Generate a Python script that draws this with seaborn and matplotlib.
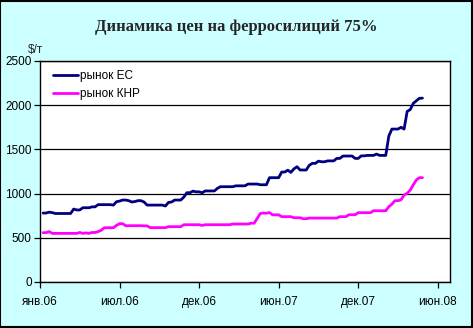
import matplotlib
matplotlib.use("Agg")
import matplotlib.pyplot as plt
from matplotlib.patches import Rectangle
import numpy as np
import pandas as pd
import seaborn as sns

# Weekly prices, $/t
eu_prices = [
    780, 780, 790, 785, 775, 775, 775, 775, 775, 775,
    825, 815, 815, 840, 840, 840, 850, 850, 875, 875,
    875, 875, 875, 870, 908, 915, 927, 927, 920, 905,
    910, 920, 920, 905, 870, 870, 870, 870, 870, 870,
    860, 900, 905, 927, 927, 927, 960, 1010, 1010, 1028,
    1020, 1020, 1010, 1030, 1030, 1030, 1030, 1060, 1078, 1078,
    1078, 1078, 1078, 1088, 1088, 1088, 1088, 1108, 1108, 1108,
    1108, 1100, 1100, 1100, 1180, 1180, 1180, 1180, 1244, 1244,
    1265, 1240, 1280, 1304, 1267, 1267, 1267, 1320, 1342, 1342,
    1367, 1360, 1360, 1370, 1370, 1370, 1398, 1398, 1425, 1425,
    1425, 1425, 1398, 1398, 1427, 1427, 1432, 1432, 1432, 1447,
    1432, 1432, 1432, 1650, 1730, 1730, 1730, 1750, 1730, 1930,
    1950, 2021, 2050, 2078, 2080,
]
cn_prices = [
    558, 558, 570, 550, 550, 550, 550, 550, 550, 550,
    550, 550, 560, 550, 555, 550, 560, 560, 570, 585,
    614, 614, 614, 614, 640, 660, 660, 637, 637, 637,
    637, 637, 637, 635, 635, 615, 615, 615, 615, 615,
    615, 626, 626, 626, 626, 626, 648, 648, 648, 648,
    648, 648, 640, 648, 648, 648, 648, 648, 648, 648,
    648, 648, 656, 656, 656, 656, 656, 656, 665, 665,
    720, 775, 780, 778, 785, 760, 760, 760, 739, 739,
    739, 739, 727, 727, 727, 716, 716, 723, 723, 723,
    723, 723, 723, 723, 723, 723, 723, 739, 739, 739,
    761, 761, 761, 784, 784, 784, 784, 784, 806, 806,
    806, 806, 806, 852, 880, 920, 920, 930, 984, 1003,
    1040, 1100, 1154, 1180, 1180,
]
series_names = ["рынок ЕС", "рынок КНР"]
series_colors = ["#000080", "#FF00FF"]
tick_labels = ["янв.06", "июл.06", "дек.06", "июн.07", "дек.07", "июн.08"]
title_text = "Динамика цен на ферросилиций 75%"
unit_text = "$/т"

origin = pd.Timestamp("2006-01-06")
dates = pd.date_range("2006-01-13", periods=len(eu_prices), freq="7D")
df = pd.concat([
    pd.DataFrame({"date": dates, "price": eu_prices, "market": series_names[0]}),
    pd.DataFrame({"date": dates, "price": cn_prices, "market": series_names[1]}),
])

sns.set_theme(style="white")
plt.rcParams["font.family"] = ["Liberation Sans", "DejaVu Sans"]

bg = "#CCFFFF"
fig = plt.figure(figsize=(4.73, 3.28), dpi=100, facecolor=bg)
ax = fig.add_axes([40 / 473, 46 / 328, 410 / 473, 221 / 328])
ax.set_facecolor("white")

sns.lineplot(data=df, x="date", y="price", hue="market",
             palette=dict(zip(series_names, series_colors)),
             linewidth=2.0, ax=ax, legend=True)

ax.set_ylim(0, 2500)
ax.set_yticks([0, 500, 1000, 1500, 2000, 2500])
ax.yaxis.grid(True, color="black", linewidth=0.9)
ax.xaxis.grid(False)

tick_dates = [origin + pd.Timedelta(weeks=26 * i) for i in range(len(tick_labels))]
ax.set_xticks(tick_dates)
ax.set_xticklabels(tick_labels)
ax.set_xlim(origin, origin + pd.Timedelta(weeks=134))

ax.tick_params(axis="both", direction="out", length=4, width=0.9,
               color="black", labelsize=8.5, labelcolor="black", pad=2)
ax.tick_params(axis="x", pad=6)
ax.tick_params(left=True, bottom=True)
ax.set_xlabel("")
ax.set_ylabel("")
for sp in ax.spines.values():
    sp.set_color("black")
    sp.set_linewidth(1.0)

leg = ax.legend(loc="upper left", frameon=False, fontsize=8.5,
                handlelength=2.1, handletextpad=0.2, labelspacing=0.5,
                borderpad=0.0, borderaxespad=0.0,
                bbox_to_anchor=(13 / 410, (282 - 70) / 221))
for t in leg.get_texts():
    t.set_color("black")

fig.text(0.5, 1 - 27 / 328, title_text, ha="center", va="center",
         fontsize=12, fontweight="bold", family=["Liberation Serif", "DejaVu Serif"])
fig.text(28 / 473, 1 - 50 / 328, unit_text, ha="left", va="center", fontsize=8.5)

fig.patches.append(Rectangle((0.001, 0.002), 0.996, 0.995, transform=fig.transFigure,
                             fill=False, edgecolor="black", linewidth=1.5))

fig.savefig("out.png", dpi=100, facecolor=bg)
